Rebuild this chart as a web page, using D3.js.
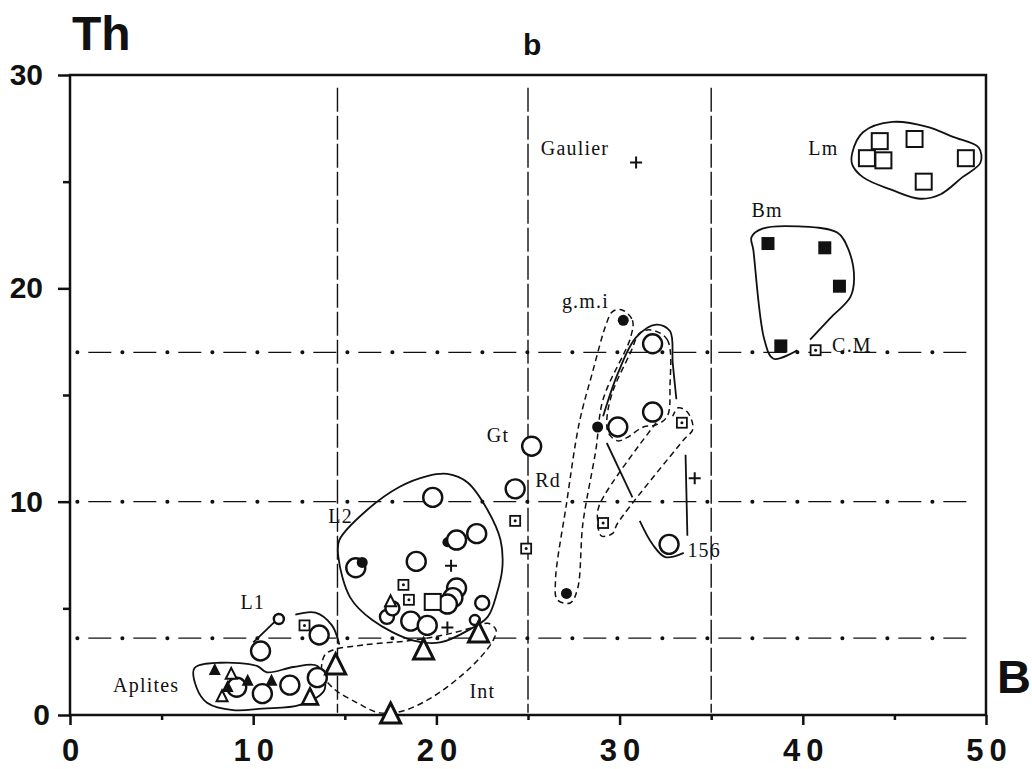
<!DOCTYPE html>
<html>
<head>
<meta charset="utf-8">
<script src="https://cdn.jsdelivr.net/npm/d3@7"></script>
<style>
  body { margin: 0; background: #fff; }
  svg { display: block; }
  .lab { font-family: "Liberation Serif", serif; font-size: 20px; letter-spacing: 1.2px; fill: #111; }
  .tick text { font-family: "Liberation Sans", Arial, sans-serif; font-weight: bold; fill: #111; }
</style>
</head>
<body>
<div id="chart"></div>
<script>
// Th vs B diagram (panel b)
const bTicks = [0, 10, 20, 30, 40, 50]
const bMinor = [5, 15, 25, 35, 45]
const thTicks = [0, 10, 20, 30]
const thMinor = [5, 15, 25]

// field boundaries
const vBounds = [14.6, 25, 35]
const hBounds = [17, 10, 3.6]

// samples, one array per symbol
const bigCircles = [
  {b: 9.1, th: 1.3}, {b: 10.5, th: 1.0}, {b: 12.0, th: 1.4}, {b: 13.5, th: 1.75},
  {b: 10.4, th: 3.0}, {b: 13.6, th: 3.75},
  {b: 19.8, th: 10.2}, {b: 22.2, th: 8.5}, {b: 21.1, th: 8.2}, {b: 18.9, th: 7.2},
  {b: 15.6, th: 6.9}, {b: 21.1, th: 5.95}, {b: 20.9, th: 5.5}, {b: 20.6, th: 5.2},
  {b: 18.6, th: 4.4}, {b: 19.5, th: 4.2},
  {b: 25.2, th: 12.6}, {b: 24.3, th: 10.6}, {b: 29.9, th: 13.5}, {b: 31.8, th: 14.2},
  {b: 31.8, th: 17.4}, {b: 32.7, th: 8.0}
]
const midCircles = [{b: 17.3, th: 4.6}, {b: 17.6, th: 5.0}, {b: 22.5, th: 5.25}]
const smallCircles = [{b: 11.4, th: 4.5}, {b: 22.1, th: 4.45}]
const filledDots = [
  {b: 30.2, th: 18.5}, {b: 28.8, th: 13.5}, {b: 27.1, th: 5.7}, {b: 15.95, th: 7.15}
]
const hiddenDots = [{b: 20.6, th: 8.1}]
const openSquares = [
  {b: 44.2, th: 26.9}, {b: 43.5, th: 26.1}, {b: 44.4, th: 26.0},
  {b: 46.1, th: 27.0}, {b: 46.6, th: 25.0}, {b: 48.9, th: 26.1}, {b: 19.8, th: 5.3}
]
const filledSquares = [{b: 38.1, th: 22.1}, {b: 41.2, th: 21.9}, {b: 42.0, th: 20.1}, {b: 38.8, th: 17.3}]
const dotSquares = [
  {b: 40.7, th: 17.1}, {b: 33.4, th: 13.7}, {b: 29.1, th: 9.0}, {b: 24.3, th: 9.1},
  {b: 24.9, th: 7.8}, {b: 18.2, th: 6.1}, {b: 18.5, th: 5.4}, {b: 12.8, th: 4.2}
]
const crosses = [{b: 30.9, th: 25.9}, {b: 34.1, th: 11.1}, {b: 20.8, th: 7.0}, {b: 20.6, th: 4.1}]
const bigTriangles = [{b: 17.5, th: 0.0}, {b: 19.3, th: 3.0}, {b: 22.3, th: 3.8}, {b: 14.5, th: 2.3}]
const midTriangles = [{b: 13.1, th: 0.8}]
const smallTriangles = [{b: 8.3, th: 0.85}, {b: 8.8, th: 1.9}, {b: 17.5, th: 5.3}]
const filledTriangles = [{b: 7.9, th: 2.1}, {b: 9.7, th: 1.6}, {b: 11.0, th: 1.6}, {b: 8.6, th: 1.3}]

// hand drawn group outlines [B, Th]
const lmLoop = [[42.7, 26.35], [43.3, 27.33], [44.9, 27.8], [46.8, 27.57], [48.2, 27.1], [49.6, 26.6],
  [49.7, 25.9], [48.7, 25.2], [47.5, 24.4], [46.4, 24.2], [44.9, 24.6], [43.3, 25.2], [42.7, 25.8]]
const bmLine = [[39.7, 17.1], [38.4, 16.7], [37.9, 17.6], [37.3, 21.8], [37.2, 22.4], [37.8, 22.8],
  [39.8, 22.9], [41.9, 22.6], [42.5, 21.8], [42.8, 20.5], [42.6, 19.6], [41.5, 18.6], [40.4, 17.6]]
const gmiLoop = [[30.1, 19.0], [30.7, 18.5], [30.6, 17.7], [29.1, 14.8], [28.7, 12.4], [28.0, 9.0],
  [27.7, 5.9], [27.3, 5.25], [26.6, 5.4], [26.5, 6.3], [27.1, 9.9], [27.8, 13.7], [28.5, 16.0],
  [29.3, 18.4], [29.6, 18.9]]
const rdLine = [[29.1, 14.0], [29.9, 16.0], [30.9, 17.7], [32.0, 18.3], [32.75, 18.0], [32.9, 16.5], [33.1, 14.8]]
const rdRight = [[33.6, 12.2], [33.7, 8.4]]
const rdCross = [[29.3, 12.75], [30.7, 10.2]]
const rd156 = [[31.1, 9.1], [31.8, 8.0], [32.5, 7.4], [33.5, 7.6]]
const rdDashLoop = [[31.7, 18.05], [32.6, 17.6], [32.75, 15.4], [32.6, 14.0], [32.0, 13.6], [31.3, 13.5],
  [30.4, 13.0], [29.9, 12.85], [29.4, 13.2], [29.3, 13.8], [29.6, 15.1], [30.6, 17.0], [31.1, 17.9]]
const rdDashLine = [[32.0, 13.7], [28.9, 9.85], [28.8, 9.1], [29.0, 8.4], [29.6, 8.5], [29.9, 9.0],
  [33.5, 12.9], [34.0, 13.4], [33.7, 14.2], [33.2, 14.4], [32.9, 14.0]]
const l2Loop = [[14.65, 7.4], [14.7, 8.2], [16.2, 9.6], [18.0, 10.7], [19.5, 11.2], [20.6, 11.3],
  [21.7, 10.9], [22.8, 9.6], [23.5, 8.2], [23.6, 6.9], [23.3, 5.7], [22.8, 4.6], [21.8, 4.0],
  [20.2, 3.4], [18.7, 3.5], [16.5, 4.45], [15.3, 5.5]]
const l1Link = [[11.15, 4.35], [10.0, 3.4]]
const l1Arc = [[12.3, 4.7], [13.4, 4.8], [14.3, 4.2], [14.7, 3.3]]
const apliteLoop = [[6.8, 2.2], [8.2, 2.45], [10.2, 2.3], [10.75, 2.0], [12.2, 2.25], [13.5, 2.3],
  [13.9, 1.2], [12.55, 0.47], [10.5, 0.3], [8.9, 0.23], [7.5, 0.56], [6.9, 1.3]]
const intLoop = [[14.35, 3.05], [16.2, 3.3], [18.7, 3.5], [20.4, 3.75], [22.0, 4.1], [22.8, 4.3],
  [23.25, 4.0], [23.1, 3.5], [22.4, 2.7], [21.3, 1.8], [19.8, 0.85], [18.2, 0.2], [16.9, 0.1],
  [15.7, 0.56], [14.35, 1.27], [13.75, 2.0], [13.9, 2.8]]

const labels = [
  {text: 'Gaulier', b: 25.7, th: 26.25}, {text: 'Lm', b: 40.3, th: 26.25},
  {text: 'Bm', b: 37.2, th: 23.35}, {text: 'C.M', b: 41.6, th: 17.0},
  {text: 'g.m.i', b: 26.85, th: 19.1}, {text: 'Gt', b: 22.75, th: 12.8},
  {text: 'Rd', b: 25.4, th: 10.7}, {text: '156', b: 33.7, th: 7.4},
  {text: 'L2', b: 14.1, th: 9.0}, {text: 'L1', b: 9.3, th: 4.97},
  {text: 'Aplites', b: 2.35, th: 1.1}, {text: 'Int', b: 21.8, th: 0.8}
]

const W = 1032, H = 769
const ink = '#111'

const svg = d3.select('#chart').append('svg')
  .attr('width', W)
  .attr('height', H)

const x = d3.scaleLinear().domain([0, 50]).range([70, 986])
const y = d3.scaleLinear().domain([0, 30]).range([715, 75])

// axes
const axisX = d3.axisBottom(x).tickValues(bTicks).tickSize(10).tickSizeOuter(0).tickPadding(14)
const axisXMinor = d3.axisBottom(x).tickValues(bMinor).tickSize(5).tickSizeOuter(0).tickFormat('')
const axisY = d3.axisLeft(y).tickValues(thTicks).tickSize(12).tickSizeOuter(0).tickPadding(15)
const axisYMinor = d3.axisLeft(y).tickValues(thMinor).tickSize(7).tickSizeOuter(0).tickFormat('')

const gx = svg.append('g').attr('transform', `translate(0,${y(0)})`).call(axisX)
gx.selectAll('text').attr('font-size', 31).style('letter-spacing', '6px').attr('dx', 3)
svg.append('g').attr('transform', `translate(0,${y(0)})`).call(axisXMinor)
const gy = svg.append('g').attr('transform', `translate(${x(0)},0)`).call(axisY)
gy.selectAll('text').attr('font-size', 30).attr('dx', d => d === 0 ? 7 : 0)
svg.append('g').attr('transform', `translate(${x(0)},0)`).call(axisYMinor)
svg.selectAll('.domain').remove()
svg.selectAll('.tick line').attr('stroke', ink).attr('stroke-width', 2.5)

svg.append('rect')
  .attr('x', x(0)).attr('y', y(30))
  .attr('width', x(50) - x(0)).attr('height', y(0) - y(30))
  .attr('fill', 'none').attr('stroke', ink).attr('stroke-width', 2.5)

// field boundaries
svg.append('g').selectAll('line')
  .data(vBounds)
  .join('line')
  .attr('x1', d => x(d)).attr('x2', d => x(d))
  .attr('y1', y(29.4)).attr('y2', y(0.1))
  .attr('stroke', ink).attr('stroke-width', 1.4)
  .attr('stroke-dasharray', '24,4')

const hb = svg.append('g')
hb.selectAll('line.dash')
  .data(hBounds)
  .join('line').attr('class', 'dash')
  .attr('x1', x(0.4)).attr('x2', x(49.3))
  .attr('y1', d => y(d)).attr('y2', d => y(d))
  .attr('stroke', ink).attr('stroke-width', 1.3)
  .attr('stroke-dasharray', '23,22').attr('stroke-dashoffset', 34)
hb.selectAll('line.dot')
  .data(hBounds)
  .join('line').attr('class', 'dot')
  .attr('x1', x(0.4)).attr('x2', x(49.3))
  .attr('y1', d => y(d)).attr('y2', d => y(d))
  .attr('stroke', ink).attr('stroke-width', 4).attr('stroke-linecap', 'round')
  .attr('stroke-dasharray', '0.1,44.9')

// outlines
const closed = d3.line().x(d => x(d[0])).y(d => y(d[1])).curve(d3.curveCatmullRomClosed.alpha(0.5))
const open = d3.line().x(d => x(d[0])).y(d => y(d[1])).curve(d3.curveCatmullRom.alpha(0.5))
const og = svg.append('g').attr('fill', 'none').attr('stroke', ink)
const solidLoops = [lmLoop, l2Loop, apliteLoop]
const solidLines = [bmLine, rdLine, rdRight, rdCross, rd156, l1Link, l1Arc]
const dashLoops = [gmiLoop, rdDashLoop, intLoop]
const dashLines = [rdDashLine]
og.selectAll('path.sl').data(solidLoops).join('path').attr('class', 'sl')
  .attr('d', closed).attr('stroke-width', 1.8)
og.selectAll('path.so').data(solidLines).join('path').attr('class', 'so')
  .attr('d', open).attr('stroke-width', 1.8)
og.selectAll('path.dl').data(dashLoops).join('path').attr('class', 'dl')
  .attr('d', closed).attr('stroke-width', 1.5).attr('stroke-dasharray', '6,4')
og.selectAll('path.do').data(dashLines).join('path').attr('class', 'do')
  .attr('d', open).attr('stroke-width', 1.5).attr('stroke-dasharray', '6,4')

// markers
const mg = svg.append('g')
const tri = s => `M0,${-s * 0.6}L${s / 2},${s * 0.4}L${-s / 2},${s * 0.4}Z`
const pos = d => `translate(${x(d.b)},${y(d.th)})`

mg.selectAll('circle.hid').data(hiddenDots).join('circle').attr('class', 'hid')
  .attr('cx', d => x(d.b)).attr('cy', d => y(d.th)).attr('r', 5).attr('fill', ink)

const circleSets = [[bigCircles, 9.5], [midCircles, 7], [smallCircles, 5]]
circleSets.forEach(([set, r], i) => {
  mg.selectAll(`circle.c${i}`).data(set).join('circle').attr('class', `c${i}`)
    .attr('cx', d => x(d.b)).attr('cy', d => y(d.th)).attr('r', r)
    .attr('fill', '#fff').attr('stroke', ink).attr('stroke-width', 2.4)
})

mg.selectAll('circle.fd').data(filledDots).join('circle').attr('class', 'fd')
  .attr('cx', d => x(d.b)).attr('cy', d => y(d.th)).attr('r', 5.5).attr('fill', ink)

mg.selectAll('rect.os').data(openSquares).join('rect').attr('class', 'os')
  .attr('x', d => x(d.b) - 8).attr('y', d => y(d.th) - 8).attr('width', 16).attr('height', 16)
  .attr('fill', '#fff').attr('stroke', ink).attr('stroke-width', 2)

mg.selectAll('rect.fs').data(filledSquares).join('rect').attr('class', 'fs')
  .attr('x', d => x(d.b) - 6.5).attr('y', d => y(d.th) - 6.5).attr('width', 13).attr('height', 13)
  .attr('fill', ink)

const ds = mg.selectAll('g.ds').data(dotSquares).join('g').attr('class', 'ds').attr('transform', pos)
ds.append('rect').attr('x', -5).attr('y', -5).attr('width', 10).attr('height', 10)
  .attr('fill', '#fff').attr('stroke', ink).attr('stroke-width', 1.8)
ds.append('circle').attr('r', 1.5).attr('fill', ink)

mg.selectAll('path.cr').data(crosses).join('path').attr('class', 'cr')
  .attr('transform', pos).attr('d', 'M-6,0H6M0,-6V6')
  .attr('stroke', ink).attr('stroke-width', 2)

const triSets = [[bigTriangles, 20, '#fff', 3], [midTriangles, 16, '#fff', 2.6], [smallTriangles, 11, '#fff', 2]]
triSets.forEach(([set, s, fill, sw], i) => {
  mg.selectAll(`path.t${i}`).data(set).join('path').attr('class', `t${i}`)
    .attr('transform', pos).attr('d', tri(s))
    .attr('fill', fill).attr('stroke', ink).attr('stroke-width', sw).attr('stroke-linejoin', 'miter')
})
mg.selectAll('path.ft').data(filledTriangles).join('path').attr('class', 'ft')
  .attr('transform', pos).attr('d', tri(12)).attr('fill', ink)

// labels
svg.append('g').selectAll('text')
  .data(labels)
  .join('text').attr('class', 'lab')
  .attr('x', d => x(d.b)).attr('y', d => y(d.th))
  .text(d => d.text)

const title = (t, px, py, size) => svg.append('text')
  .attr('x', px).attr('y', py)
  .attr('font-family', '"Liberation Sans", Arial, sans-serif').attr('font-weight', 'bold')
  .attr('font-size', size).attr('fill', ink).text(t)
title('Th', 72, 50, 48)
title('b', 523, 55, 30)
title('B', 997, 693, 47)
</script>
</body>
</html>
